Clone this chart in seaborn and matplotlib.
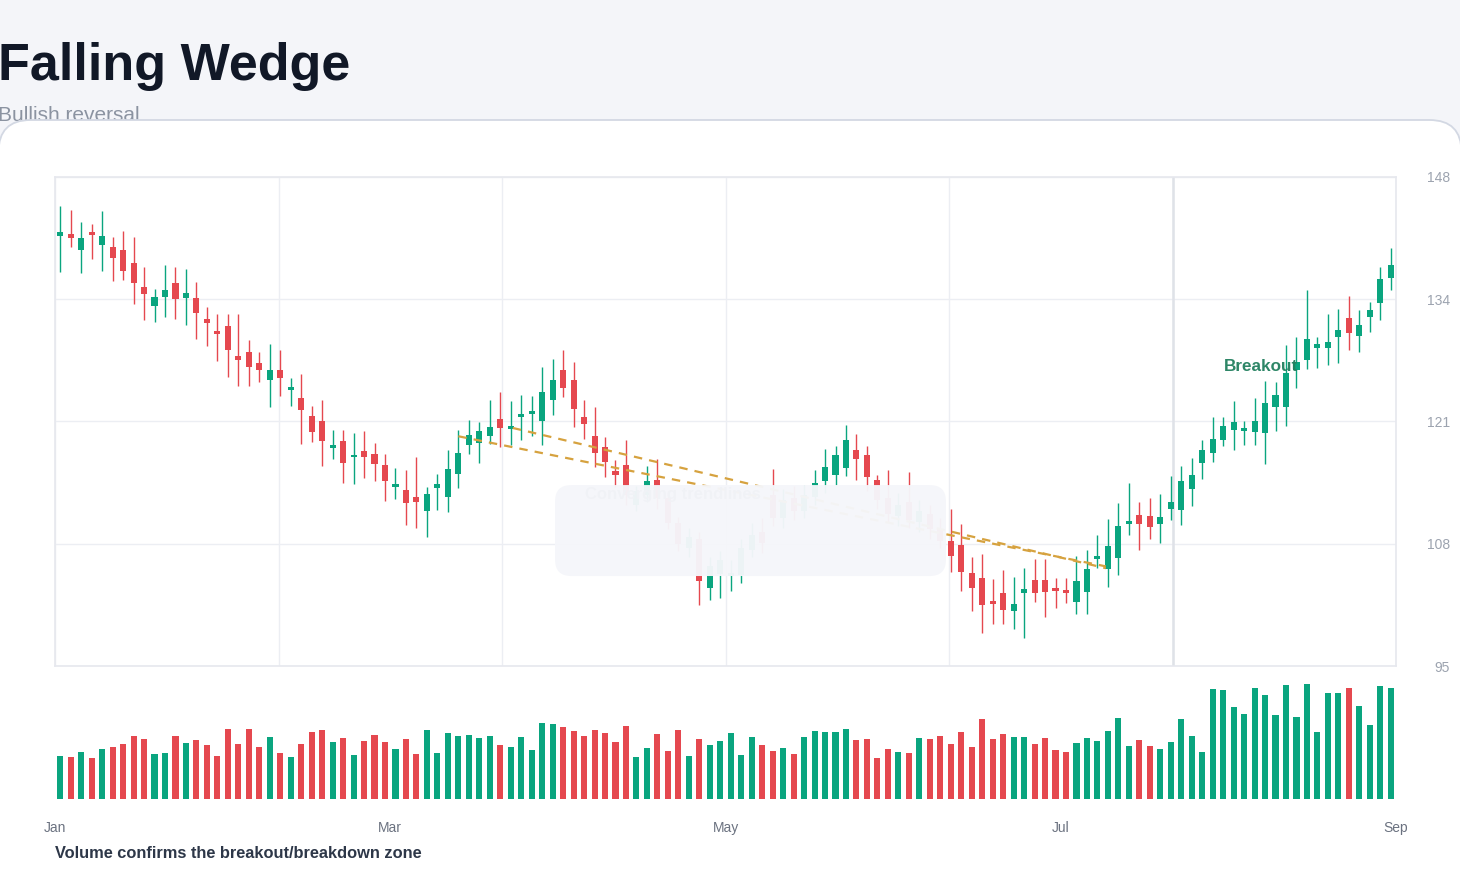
import numpy as np
import pandas as pd
import matplotlib
matplotlib.use("Agg")
import matplotlib.pyplot as plt
import seaborn as sns
from matplotlib.patches import FancyBboxPatch

# ---------------- data ----------------
title = "Falling Wedge"
subtitle = "Bullish reversal"
caption = "Volume confirms the breakout/breakdown zone"
month_labels = ["Jan", "Mar", "May", "Jul", "Sep"]
price_ticks = [95, 108.25, 121.5, 134.75, 148]
price_tick_labels = ["95", "108", "121", "134", "148"]

opens = [141.6, 141.8, 140.1, 142.0, 140.6, 140.4, 140.1, 138.7, 136.1, 134.0,
         135.0, 136.5, 134.9, 134.9, 132.6, 131.3, 131.9, 128.6, 129.0, 127.8,
         126.0, 127.1, 124.9, 124.0, 122.1, 121.5, 118.6, 119.4, 117.6, 118.3,
         118.0, 116.8, 114.4, 114.1, 113.3, 111.8, 114.3, 113.3, 115.8, 119.0,
         119.2, 119.9, 121.8, 120.7, 122.0, 122.3, 121.5, 123.8, 127.1, 126.0,
         122.0, 119.9, 118.7, 116.1, 116.8, 112.5, 113.5, 115.2, 113.2, 110.5,
         107.8, 108.8, 103.5, 105.0, 104.75, 104.9, 107.6, 109.5, 113.5, 111.0,
         113.2, 111.8, 113.3, 115.0, 115.7, 116.5, 118.4, 117.9, 115.2, 113.2,
         111.3, 112.8, 110.6, 111.5, 109.9, 108.5, 108.1, 105.1, 104.5, 102.0,
         102.9, 101.0, 102.9, 104.3, 104.3, 103.4, 103.2, 101.9, 103.0, 106.6,
         105.5, 106.7, 110.4, 111.4, 111.3, 110.4, 112.0, 111.9, 114.2, 117.0,
         118.1, 119.5, 120.6, 120.5, 120.4, 120.2, 123.1, 123.1, 127.1, 128.2,
         129.5, 129.5, 130.7, 132.7, 130.8, 132.8, 134.3, 137.0]
highs = [144.9, 144.4, 143.1, 142.9, 144.3, 141.5, 142.2, 141.5, 138.2, 135.9,
         138.5, 138.2, 138.0, 136.6, 133.9, 133.2, 133.2, 133.1, 130.3, 129.0,
         129.9, 129.3, 126.2, 126.7, 123.2, 123.8, 120.6, 120.6, 120.2, 120.5,
         119.2, 118.0, 116.5, 116.2, 117.7, 114.4, 115.8, 118.4, 120.6, 121.7,
         121.4, 123.8, 124.7, 123.7, 124.4, 124.3, 127.4, 128.3, 129.2, 128.0,
         123.8, 123.1, 119.8, 117.3, 119.5, 114.5, 116.7, 117.4, 114.0, 111.2,
         110.0, 109.5, 106.8, 107.5, 106.5, 108.8, 110.5, 111.0, 116.3, 114.2,
         114.5, 114.6, 116.2, 118.5, 118.8, 121.1, 120.1, 118.8, 115.7, 116.2,
         113.8, 116.0, 113.0, 112.5, 111.0, 112.0, 110.4, 106.8, 107.1, 104.4,
         105.4, 104.7, 105.6, 106.6, 106.6, 104.5, 104.5, 106.9, 107.6, 109.2,
         110.9, 112.7, 114.8, 112.8, 113.2, 113.6, 115.6, 116.7, 117.5, 119.5,
         122.0, 122.0, 123.7, 121.5, 124.1, 125.9, 125.8, 129.8, 130.7, 135.7,
         130.7, 133.1, 133.7, 135.1, 133.6, 134.5, 138.2, 140.3]
lows = [137.7, 140.4, 137.6, 139.1, 137.8, 136.7, 136.8, 134.2, 132.5, 132.3,
        132.8, 132.6, 132.0, 130.4, 129.7, 128.1, 126.3, 125.3, 125.3, 125.8,
        123.1, 124.3, 123.2, 119.1, 119.3, 116.7, 117.4, 114.8, 114.7, 115.4,
        115.0, 112.9, 113.1, 110.3, 110.0, 109.0, 111.9, 111.7, 114.3, 118.0,
        117.0, 119.1, 118.7, 119.0, 119.5, 119.9, 118.9, 122.2, 124.2, 120.9,
        119.6, 116.6, 115.5, 114.4, 112.5, 111.8, 112.8, 112.0, 109.8, 107.5,
        106.8, 101.6, 102.2, 102.4, 103.1, 104.0, 106.8, 107.2, 110.2, 110.0,
        110.8, 111.0, 112.5, 113.8, 114.6, 115.6, 115.2, 114.0, 112.0, 110.5,
        110.2, 110.0, 109.5, 108.8, 107.8, 105.2, 103.1, 101.0, 98.6, 99.5,
        99.5, 99.0, 98.0, 101.9, 100.3, 101.3, 101.8, 100.6, 100.6, 105.6,
        103.6, 104.9, 109.2, 107.6, 108.8, 108.3, 110.8, 110.3, 112.3, 115.3,
        117.1, 118.8, 118.4, 119.0, 118.9, 116.9, 120.5, 121.0, 125.1, 127.2,
        127.3, 127.6, 127.8, 129.2, 129.0, 131.2, 132.5, 135.7]
closes = [142.0, 141.4, 141.4, 141.7, 141.6, 139.2, 137.8, 136.5, 135.3, 135.0,
          135.8, 134.8, 135.4, 133.3, 132.2, 131.0, 129.2, 128.2, 127.4, 127.1,
          127.1, 126.2, 125.2, 122.8, 120.4, 119.4, 119.0, 117.0, 117.9, 117.6,
          116.9, 115.1, 114.7, 112.7, 112.8, 113.6, 114.7, 116.3, 118.1, 120.0,
          120.5, 120.9, 120.8, 121.0, 122.3, 122.6, 124.7, 126.0, 125.1, 122.9,
          121.2, 118.1, 117.1, 115.7, 113.5, 114.0, 115.0, 113.2, 110.5, 108.2,
          109.0, 104.2, 105.8, 106.5, 104.9, 107.8, 109.2, 108.3, 111.0, 113.0,
          111.8, 113.5, 114.8, 116.6, 117.9, 119.5, 117.4, 115.5, 113.0, 111.5,
          112.5, 110.8, 111.8, 109.8, 108.6, 106.9, 105.2, 103.5, 101.6, 101.7,
          101.1, 101.7, 103.3, 102.9, 103.0, 103.1, 102.9, 104.2, 105.5, 106.9,
          108.0, 110.2, 110.7, 110.4, 110.1, 111.1, 112.8, 115.1, 115.7, 118.4,
          119.6, 121.0, 121.4, 120.8, 121.5, 123.5, 124.4, 126.8, 127.9, 130.4,
          129.9, 130.1, 131.4, 131.1, 132.0, 133.6, 136.9, 138.5]
volume = [129, 126, 141, 123, 150, 156, 165, 189, 180, 135,
          138, 189, 168, 177, 162, 129, 210, 165, 210, 156,
          186, 138, 126, 165, 201, 207, 171, 183, 132, 174,
          192, 171, 150, 180, 135, 207, 138, 198, 189, 192,
          183, 189, 162, 156, 186, 147, 228, 225, 216, 204,
          189, 207, 198, 171, 219, 126, 153, 195, 144, 207,
          129, 180, 162, 174, 198, 132, 186, 162, 144, 153,
          135, 186, 204, 201, 201, 210, 177, 180, 123, 150,
          141, 138, 183, 180, 189, 165, 201, 156, 240, 180,
          195, 186, 186, 165, 183, 147, 141, 168, 183, 174,
          204, 243, 159, 177, 159, 150, 171, 240, 189, 141,
          330, 327, 276, 255, 333, 312, 252, 342, 246, 345,
          201, 318, 318, 333, 279, 222, 339, 333]

trend_a_x = [38.0, 99.8]
trend_a_y = [119.9, 105.8]
trend_b_x = [43.2, 99.8]
trend_b_y = [120.8, 105.6]
breakout_label = "Breakout"
breakout_x, breakout_y = 114.6, 127.0
note_label = "Converging trendlines"

# ---------------- style ----------------
GREEN = "#0aa57f"
RED = "#e5484f"
GRID = "#eceef3"
sns.set_theme(style="white")
plt.rcParams["font.family"] = ["Liberation Sans", "DejaVu Sans"]

n = len(opens)
df = pd.DataFrame({"idx": np.arange(n), "open": opens, "high": highs,
                   "low": lows, "close": closes, "volume": volume})
df["dir"] = np.where(df["close"] >= df["open"], "up", "down")
palette = {"up": GREEN, "down": RED}
colors = df["dir"].map(palette)

W, H = 1460, 880
fig = plt.figure(figsize=(W / 100, H / 100), dpi=100, facecolor="#f4f5f9")

# white card (edges just outside the image at left/right)
card = FancyBboxPatch((-1.5 / W, -0.05), 1 + 3 / W, (H - 120) / H + 0.05,
                      boxstyle="round,pad=0,rounding_size=0.022",
                      transform=fig.transFigure, facecolor="white",
                      edgecolor="#d3d8e3", linewidth=1.3, zorder=-1,
                      mutation_aspect=W / H)
fig.patches.append(card)

fig.text(-2 / W, 1 - 80 / H, title, fontsize=37.5, fontweight="bold",
         color="#111827", va="baseline", ha="left", zorder=5)
fig.text(-2 / W, 1 - 121 / H, subtitle, fontsize=15, color="#8b93a1",
         va="baseline", ha="left", zorder=-2)

x0, x1 = 55, 1396
ax = fig.add_axes([x0 / W, (H - 666) / H, (x1 - x0) / W, 489 / H])
axv = fig.add_axes([x0 / W, (H - 799) / H, (x1 - x0) / W, 119 / H])

xlim = (-0.5, n - 0.5)
span = n

# candles
body_lo = df[["open", "close"]].min(axis=1)
body_h = (df["close"] - df["open"]).abs().clip(lower=0.28)
ax.vlines(df["idx"], df["low"], df["high"], colors=colors, linewidth=1.0, zorder=3)
ax.bar(df["idx"], body_h, bottom=body_lo, width=0.58, color=colors,
       linewidth=0, zorder=4)

# trendlines
for tx, ty in [(trend_a_x, trend_a_y), (trend_b_x, trend_b_y)]:
    ax.plot(tx, ty, color="#d6a23f", linewidth=1.6, dashes=(3.8, 3.2), zorder=5)

# annotation card (faded)
ax.text(0.3729 + 0.022, 0.3665, note_label, transform=ax.transAxes,
        fontsize=12, fontweight="bold", color="#7d8595", va="top", ha="left", zorder=6)
box = FancyBboxPatch((0.3729, 0.184), 0.6644 - 0.3729, 0.370 - 0.184,
                     boxstyle="round,pad=0,rounding_size=0.012",
                     mutation_aspect=(1341 / 489),
                     transform=ax.transAxes, facecolor="#f5f6fa",
                     edgecolor="none", alpha=0.97, zorder=7)
ax.add_patch(box)

ax.text(breakout_x, breakout_y, breakout_label, fontsize=12.3, fontweight="bold",
        color="#23805f", ha="center", va="baseline", zorder=8, alpha=0.95)

ax.set_xlim(*xlim)
ax.set_ylim(price_ticks[0], price_ticks[-1])
ax.set_yticks(price_ticks)
ax.set_yticklabels(price_tick_labels)
ax.yaxis.tick_right()
ax.tick_params(axis="y", length=0, pad=38.9, labelsize=10, labelcolor="#9ca3af")
for lab in ax.get_yticklabels():
    lab.set_horizontalalignment("right")
ax.set_xticks([xlim[0] + span * j / 6 for j in range(7)])
ax.set_xticklabels([])
ax.tick_params(axis="x", length=0)
ax.grid(True, color=GRID, linewidth=1.0, zorder=0)
ax.axvline(xlim[0] + span * 5 / 6, color="#dfe2e8", linewidth=1.8, zorder=1)
ax.set_axisbelow(True)
for s in ax.spines.values():
    s.set_color("#e6e8ee")
    s.set_linewidth(1.2)

# volume
sns.barplot(data=df, x="idx", y="volume", hue="dir", palette=palette,
            native_scale=True, dodge=False, width=0.58, saturation=1,
            legend=False, ax=axv, linewidth=0)
axv.set_xlim(*xlim)
axv.set_ylim(0, 357)
axv.set_yticks([])
axv.set_xticks([xlim[0] + span * j / 4 for j in range(5)])
axv.set_xticklabels(month_labels)
axv.tick_params(axis="x", length=0, pad=15.5, labelsize=10, labelcolor="#6b7280")
axv.set_xlabel("")
axv.set_ylabel("")
for s in axv.spines.values():
    s.set_visible(False)
axv.set_facecolor("none")

fig.text(55 / W, 1 - 853 / H, caption, fontsize=11.8, fontweight="bold",
         color="#2d3748", va="center", ha="left")

fig.savefig("out.png", dpi=100, facecolor=fig.get_facecolor())
